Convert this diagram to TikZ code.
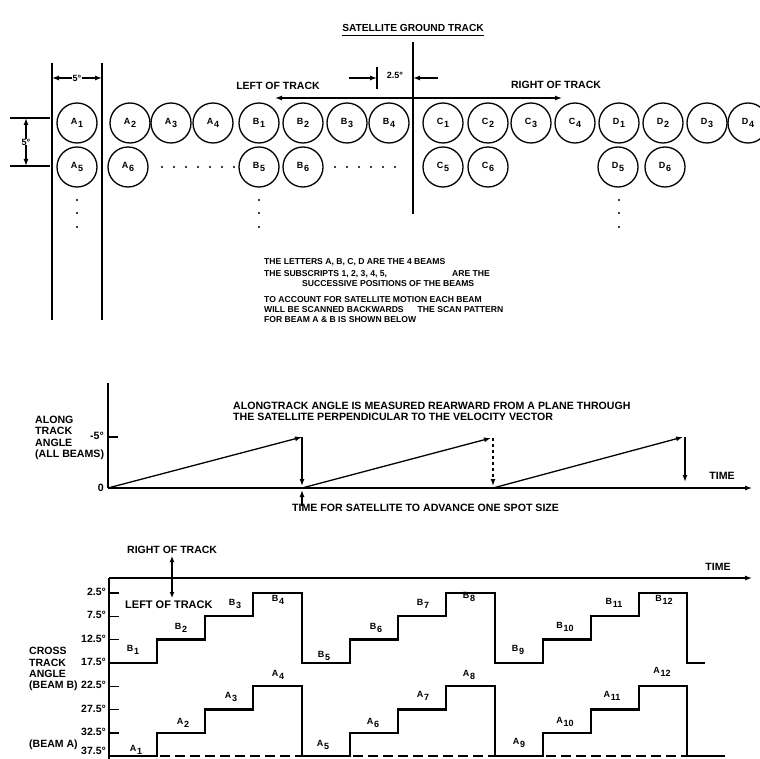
\documentclass[tikz,border=0pt]{standalone}
\usepackage{fontspec}
\setmainfont{Liberation Sans}
\usetikzlibrary{arrows.meta}
\newcommand\bsub[2]{#1\kern0.6pt\raisebox{-2.8pt}{#2}}
\newcommand\fs[1]{\bfseries\fontsize{#1}{#1}\selectfont}
\begin{document}
\begin{tikzpicture}[x=1pt,y=-1pt,
  beam/.style={circle,draw,line width=1.3pt,minimum size=40pt,inner sep=0pt,font=\fs{9}},
  txt/.style={inner sep=0pt,font=\fs{8}},
  blk/.style={inner sep=0pt,anchor=west,font=\fs{8.6}},
  mid/.style={inner sep=0pt,font=\fs{10.6}},
  big/.style={inner sep=0pt,font=\fs{10.5}},
  stp/.style={inner sep=0pt,font=\fs{9}},
  arr/.style={-{Latex[length=7pt,width=5pt]},line width=1.3pt},
  dimarr/.style={{Latex[length=6pt,width=5pt]}-{Latex[length=6pt,width=5pt]},line width=1.3pt},
  ln/.style={line width=1.4pt},
  trace/.style={line width=2.3pt,line join=miter},
  dashline/.style={line width=2.3pt,dash pattern=on 10pt off 5pt},
  dot/.style={circle,fill,inner sep=0pt,minimum size=2.2pt}]
\useasboundingbox (0,0) rectangle (760,759);
\fill[white] (0,0) rectangle (760,759);

% ---------- title ----------
\node[inner sep=0pt,font=\fs{10.2}] (title) at (413,28) {SATELLITE GROUND TRACK};
\draw[line width=0.9pt] (title.south west)++(0,3.5) coordinate (u1) -- (title.south east|-u1);

% ---------- top beam pattern ----------
\draw[ln] (52,63) coordinate (l1a) -- (52,320) coordinate (l1b);
\draw[ln] (102,63) coordinate (l2a) -- (102,320) coordinate (l2b);
\draw[ln] (413,42) coordinate (tra) -- (413,214) coordinate (trb);

\node[stp] (d5) at (77,78) {5°};
\coordinate (d5l) at (52,78); \coordinate (d5r) at (102,78);
\draw[arr] (d5.west) -- (d5l);
\draw[arr] (d5.east) -- (d5r);

\draw[ln] (10,118) coordinate (h1) -- (50,118);
\draw[ln] (10,166) coordinate (h2) -- (50,166);
\node[stp] (v5) at (26,142) {5°};
\coordinate (v5t) at (26,118); \coordinate (v5b) at (26,166);
\draw[arr] (v5.north) -- (v5t);
\draw[arr] (v5.south) -- (v5b);

\coordinate (t25a) at (349,78); \coordinate (t25b) at (377,78);
\draw[arr] (t25a) -- (t25b);
\draw[ln] (377,67) -- (377,89);
\node[stp] (t25) at (395,75) {2.5°};
\coordinate (t25c) at (438,78); \coordinate (t25d) at (413,78);
\draw[arr] (t25c) -- (t25d);

\node[big] (lot) at (278,86) {LEFT OF TRACK};
\node[big] (rot) at (556,85) {RIGHT OF TRACK};
\coordinate (trk) at (413,98);
\coordinate (lotend) at (275,98); \coordinate (rotend) at (562,98);
\draw[arr] (trk) -- (lotend);
\draw[arr] (trk) -- (rotend);

\foreach \n/\l/\s/\x in {A1/A/1/77,A2/A/2/130,A3/A/3/171,A4/A/4/213,B1/B/1/259,B2/B/2/303,B3/B/3/347,B4/B/4/389,
  C1/C/1/443,C2/C/2/488,C3/C/3/531,C4/C/4/575,D1/D/1/619,D2/D/2/663,D3/D/3/707,D4/D/4/748}
  \node[beam] (\n) at (\x,123) {\bsub{\l}{\s}};
\foreach \n/\l/\s/\x in {A5/A/5/77,A6/A/6/128,B5/B/5/259,B6/B/6/303,C5/C/5/443,C6/C/6/488,D5/D/5/618,D6/D/6/665}
  \node[beam] (\n) at (\x,167) {\bsub{\l}{\s}};

\foreach \x in {162,174,186,198,210,222,234} \node[dot] at (\x,167) {};
\foreach \x in {335,347,359,371,383,395} \node[dot] at (\x,167) {};
\foreach \x in {77,259,619} \foreach \y in {200,213,227} \node[dot] at (\x,\y) {};

% ---------- explanatory text ----------
\node[blk] (e1) at (264,262) {THE LETTERS A, B, C, D ARE THE 4 BEAMS};
\node[blk] (e2) at (264,274) {THE SUBSCRIPTS 1, 2, 3, 4, 5,};
\node[blk] (e2b) at (452,274) {ARE THE};
\node[blk] (e3) at (302,284) {SUCCESSIVE POSITIONS OF THE BEAMS};
\node[blk] (e4) at (264,300) {TO ACCOUNT FOR SATELLITE MOTION EACH BEAM};
\node[blk] (e5) at (264,310) {WILL BE SCANNED BACKWARDS\hspace{14pt}THE SCAN PATTERN};
\node[blk] (e6) at (264,320) {FOR BEAM A \& B IS SHOWN BELOW};

% ---------- along-track graph ----------
\node[mid,anchor=west] (m1) at (233,406) {ALONGTRACK ANGLE IS MEASURED REARWARD FROM A PLANE THROUGH};
\node[mid,anchor=west] (m2) at (233,417) {THE SATELLITE PERPENDICULAR TO THE VELOCITY VECTOR};
\node[mid,anchor=west,align=left] (al) at (35,438) {ALONG\\[0.8pt]TRACK\\[0.8pt]ANGLE\\[0.8pt](ALL BEAMS)};

\coordinate (o1) at (108,488);
\draw[ln] (108,383) -- (o1);
\coordinate (tend) at (752,488);
\draw[arr] (o1) -- (tend);
\draw[ln] (108,437) -- (118,437);
\node[mid,anchor=east] (m5) at (104,436) {-5°};
\node[mid,anchor=east] (m0) at (104,488) {0};

\coordinate (r1a) at (302,437); \coordinate (r1b) at (302,486);
\coordinate (r2s) at (302,488); \coordinate (r2a) at (491,438); \coordinate (r2b) at (493,486);
\coordinate (r3s) at (493,488); \coordinate (r3a) at (683,437); \coordinate (r3b) at (685,482);
\draw[arr] (o1) -- (r1a);
\draw[arr] (r1a) -- (r1b);
\coordinate (up1) at (302,506); \coordinate (up2) at (302,490);
\draw[arr] (up1) -- (up2);
\draw[arr] (r2s) -- (r2a);
\draw[arr,dashed] (493,438) -- (r2b);
\draw[arr] (r3s) -- (r3a);
\draw[arr] (685,437) -- (r3b);
\node[mid] (tm1) at (722,476) {TIME};
\node[mid,anchor=west] (m3) at (292,508) {TIME FOR SATELLITE TO ADVANCE ONE SPOT SIZE};

% ---------- cross-track graph ----------
\node[big,anchor=west] (rt) at (127,550) {RIGHT OF TRACK};
\coordinate (da) at (172,556); \coordinate (db) at (172,598);
\draw[dimarr] (da) -- (db);
\coordinate (o2) at (109,578); \coordinate (t2end) at (752,578);
\draw[arr] (o2) -- (t2end);
\draw[ln] (o2) -- (109,765);
\node[big] (tm2) at (718,567) {TIME};
\node[inner sep=0pt,font=\fs{11},anchor=west] (lt) at (125,605) {LEFT OF TRACK};

\foreach \k/\t in {0/2.5,1/7.5,2/12.5,3/17.5,4/22.5,5/27.5,6/32.5}{
  \draw[ln] (109,593+23.3*\k) -- (119,593+23.3*\k);
  \node[big,anchor=east] at (106,592+23.3*\k) {\t°};
}
\node[big,anchor=east] (t375) at (106,751) {37.5°};
\node[big,anchor=west,align=left] (ct) at (29,669) {CROSS\\[0.6pt]TRACK\\[0.6pt]ANGLE\\[0.6pt](BEAM B)};
\node[big,anchor=west] (ba) at (29,745) {(BEAM A)};

% beam B trace
\draw[trace] (109,662.9) -- (157,662.9) -- (157,639.6) -- (205,639.6) -- (205,616.3) -- (253,616.3) -- (253,593) -- (302,593)
  -- (302,662.9) -- (350,662.9) -- (350,639.6) -- (398,639.6) -- (398,616.3) -- (446,616.3) -- (446,593) -- (495,593)
  -- (495,662.9) -- (543,662.9) -- (543,639.6) -- (591,639.6) -- (591,616.3) -- (639,616.3) -- (639,593) -- (687,593)
  -- (687,662.9) -- (705,662.9);
% beam A trace
\draw[trace] (109,756) -- (157,756) -- (157,732.8) -- (205,732.8) -- (205,709.5) -- (253,709.5) -- (253,686.2) -- (302,686.2)
  -- (302,756) -- (350,756) -- (350,732.8) -- (398,732.8) -- (398,709.5) -- (446,709.5) -- (446,686.2) -- (495,686.2)
  -- (495,756) -- (543,756) -- (543,732.8) -- (591,732.8) -- (591,709.5) -- (639,709.5) -- (639,686.2) -- (687,686.2)
  -- (687,756) -- (725,756);
\draw[dashline] (160,756) -- (302,756);
\draw[dashline] (353,756) -- (495,756);
\draw[dashline] (546,756) -- (687,756);

% step labels
\foreach \l/\s/\x/\y in {B/1/133/650,B/2/181/628,B/3/235/604,B/4/278/600,B/5/324/656,B/6/376/628,B/7/423/604,B/8/469/597,
  B/9/518/650,B/10/565/627,B/11/614/603,B/12/664/600,
  A/1/136/750,A/2/183/723,A/3/231/697,A/4/278/675,A/5/323/745,A/6/373/723,A/7/423/696,A/8/469/675,
  A/9/519/743,A/10/565/722,A/11/612/696,A/12/662/672}
  \node[stp] at (\x,\y) {\bsub{\l}{\s}};
\end{tikzpicture}
\end{document}
